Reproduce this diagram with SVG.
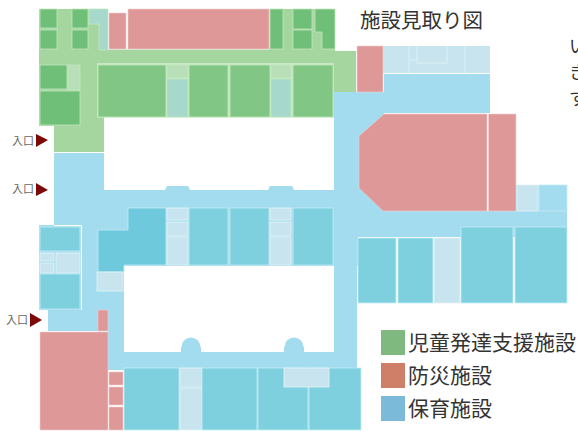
<svg xmlns="http://www.w3.org/2000/svg" width="578" height="431" viewBox="0 0 578 431">
<style>
.g{fill:#82c685;stroke:#c4e8bf;stroke-width:.8}.gd{fill:#6fbf78;stroke:#c4e8bf;stroke-width:.8}.gl{fill:#a5d6a0}.gp{fill:#b9dfb8;stroke:#c4e8bf;stroke-width:.8}.t{fill:#a6d8cc;stroke:#c4e8bf;stroke-width:.8}
.r{fill:#df9898;stroke:#f4cfcf;stroke-width:.6}.c{fill:#a4dcef}.b{fill:#7fd0df;stroke:#c4ebf5;stroke-width:.8}.bd{fill:#6fc9dc;stroke:#c4ebf5;stroke-width:.8}.p{fill:#c8e5ef;stroke:#e0f3f8;stroke-width:.8}.f{fill:#c8e5ef}
text{font-family:"Noto Sans CJK JP","Noto Sans",sans-serif;fill:#333}
.e{font-size:11px;fill:#666}
.h{fill:#7d0808}
</style>
<rect width="578" height="431" fill="#fff"/>
<g id="corridors">
<path class="gl" d="M39 9H335V51H356V92H334V63H97V117H104V152H54V126H39Z"/>
<rect x="97" y="63" width="237" height="54.500" fill="#c4e8bf"/>
<rect x="108" y="9" width="161.500" height="40.500" fill="#fff"/>
<path class="c" d="M54 153H104V190H165L167 186H188L190 190H268L270 186H292L294 190H334V92H384V114H357V211H516V185H567V237H358V266H357V368H361V430H124V368H108V331H48V310H82V225H39V309H40V226H54Z"/>
<rect class="c" x="357" y="114" width="30" height="97"/>
<rect class="c" x="39" y="226" width="42" height="84"/>
<rect class="c" x="82" y="208" width="46" height="24"/>
<rect class="c" x="166" y="207" width="168" height="59"/>
<rect class="c" x="97" y="265" width="27" height="46"/>
<rect class="c" x="108" y="290" width="16" height="80"/>
<rect class="c" x="108" y="352" width="249" height="17"/>
<rect fill="#fff" x="124" y="266" width="210" height="86"/>
<circle class="c" cx="191" cy="347" r="9.500"/>
<circle class="c" cx="294" cy="347" r="9.500"/>
<rect class="c" x="181" y="347" width="20" height="6"/>
<rect class="c" x="284" y="347" width="20" height="6"/>
</g>
<g id="green-rooms">
<rect class="gd" x="40" y="9" width="17" height="19"/>
<rect class="gd" x="40" y="30" width="17" height="19"/>
<rect class="gd" x="72" y="9" width="16" height="19"/>
<rect class="gd" x="72" y="30" width="16" height="19"/>
<rect class="gd" x="40" y="65" width="27" height="24"/>
<rect class="gp" x="68" y="65" width="12" height="25"/>
<rect class="gd" x="40" y="91" width="40" height="34"/>
<rect class="g" x="98" y="65" width="68" height="52"/>
<rect class="g" x="189" y="65" width="39" height="52"/>
<rect class="g" x="230" y="65" width="40" height="52"/>
<rect class="g" x="293" y="65" width="40" height="52"/>
<rect class="gd" x="270" y="9" width="13" height="40"/>
<rect class="gd" x="293" y="9" width="19" height="20"/>
<rect class="gd" x="293" y="30" width="19" height="19"/>
<path class="gd" d="M315 9H335V49H322V32H315Z"/>
</g>
<g id="mixed-rooms">
<path class="t" d="M89 9H108V50H99V24H89Z"/>
<rect class="gp" x="167" y="65" width="21" height="13"/>
<rect class="t" x="167" y="79" width="21" height="38"/>
<rect class="gp" x="271" y="65" width="20" height="13"/>
<rect class="t" x="271" y="79" width="20" height="38"/>
</g>
<g id="red-rooms">
<rect class="r" x="109" y="13" width="17" height="36"/>
<rect class="r" x="128" y="9" width="141" height="40"/>
<rect class="r" x="357" y="46" width="26" height="46"/>
<path class="r" d="M359 136L384 114H487V211H383L359 188Z"/>
<rect class="r" x="488.500" y="114" width="27.500" height="97"/>
<rect class="r" x="98" y="310" width="10" height="21"/>
<rect class="r" x="40" y="332" width="68" height="98"/>
<rect class="r" x="109" y="372" width="14" height="13"/>
<rect class="r" x="109" y="387" width="14" height="18"/>
<rect class="r" x="109" y="407" width="14" height="23"/>
</g>
<g id="blue-rooms">
<rect class="f" x="383" y="46" width="107" height="27"/>
<path d="M409 46V73M417 46V63H447V46M465 46V73M409 60H417" fill="none" stroke="#dcf0f6" stroke-width="1"/>
<rect class="c" x="384" y="74" width="106" height="39"/>
<rect class="p" x="517" y="185" width="21" height="26"/>
<rect class="c" x="539" y="185" width="28" height="26" stroke="#c4ebf5" stroke-width=".8"/>
<rect class="b" x="40" y="227" width="40" height="24"/>
<rect class="p" x="40" y="253" width="14" height="8"/>
<rect class="p" x="40" y="263" width="14" height="10"/>
<rect class="p" x="56" y="253" width="24" height="20"/>
<rect class="b" x="40" y="274" width="40" height="35"/>
<path class="bd" d="M128 208H166V265H124V272H98V230H128Z"/>
<rect class="p" x="97" y="272" width="26" height="19"/>
<rect class="p" x="167" y="208" width="21" height="12"/>
<rect class="p" x="167" y="222" width="21" height="14"/>
<rect class="p" x="167" y="237" width="21" height="28"/>
<rect class="b" x="189" y="208" width="39" height="57"/>
<rect class="b" x="230" y="208" width="39" height="57"/>
<rect class="p" x="270" y="208" width="21" height="12"/>
<rect class="p" x="270" y="222" width="21" height="14"/>
<rect class="p" x="270" y="237" width="21" height="28"/>
<rect class="b" x="293" y="208" width="40" height="57"/>
<rect class="b" x="358" y="238" width="38" height="65"/>
<rect class="b" x="398" y="238" width="35" height="65"/>
<rect class="p" x="434" y="238" width="26" height="65"/>
<rect class="b" x="461" y="227" width="52" height="76"/>
<rect class="b" x="515" y="227" width="52" height="76"/>
<rect class="b" x="124" y="368" width="55" height="62"/>
<rect class="p" x="180" y="368" width="22" height="19"/>
<rect class="p" x="180" y="388" width="22" height="42"/>
<rect class="b" x="202" y="368" width="55" height="62"/>
<rect class="b" x="258" y="368" width="50" height="62"/>
<rect class="b" x="309" y="368" width="52" height="62"/>
<rect class="p" x="284" y="368" width="45" height="19"/>
</g>
<g id="entrances">
<text class="e" x="12" y="145">入口</text><path class="h" d="M36 134L48 140L36 147Z"/>
<text class="e" x="12" y="193">入口</text><path class="h" d="M36 183L48 190L36 196Z"/>
<text class="e" x="6" y="324">入口</text><path class="h" d="M30 313L42 320L30 327Z"/>
</g>
<g id="title"><text x="360" y="28" font-size="20.500">施設見取り図</text></g>
<g id="side-text">
<text x="569" y="53" font-size="18">い</text>
<text x="569" y="79" font-size="18">き</text>
<text x="569" y="105" font-size="18">す</text>
</g>
<g id="legend">
<rect x="381" y="330" width="24" height="25" fill="#7fb97f"/>
<rect x="381" y="363" width="24" height="25" fill="#cf7f68"/>
<rect x="381" y="396" width="24" height="25" fill="#7bbad8"/>
<text x="408" y="350" font-size="21">児童発達支援施設</text>
<text x="408" y="383" font-size="21">防災施設</text>
<text x="408" y="416" font-size="21">保育施設</text>
</g>
</svg>
